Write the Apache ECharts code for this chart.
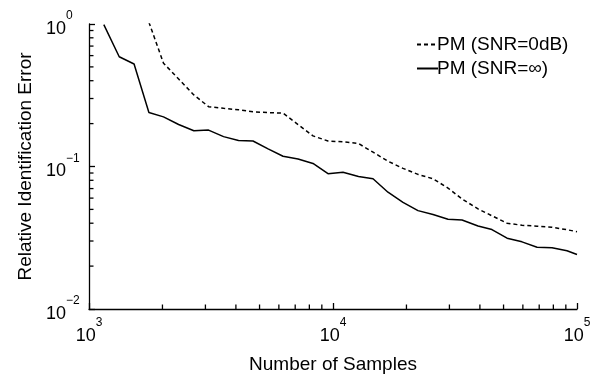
<!DOCTYPE html>
<html>
<head>
<meta charset="utf-8">
<script src="https://cdn.jsdelivr.net/npm/echarts@6/dist/echarts.min.js"></script>
<style>
  html, body { margin: 0; padding: 0; background: #fff; }
  #chart { width: 600px; height: 379px; }
</style>
</head>
<body>
<div id="chart"></div>
<script>
// number of samples (shared x values)
const samples = [1150, 1330, 1530, 1760, 2020, 2330, 2690, 3090, 3560, 4100,
  4700, 5420, 6240, 7190, 8280, 9540, 10990, 12720, 14590, 16800,
  19360, 22300, 25700, 29600, 33800, 39300, 44800, 51700, 59500, 68600,
  79000, 91000, 100000];

// PM (SNR=inf), solid
const errInf = [0.99, 0.589, 0.524, 0.2395, 0.223, 0.197, 0.178, 0.180, 0.162, 0.152,
  0.151, 0.133, 0.118, 0.113, 0.105, 0.089, 0.091, 0.085, 0.082, 0.066,
  0.056, 0.049, 0.046, 0.0426, 0.0421, 0.0382, 0.0361, 0.0314, 0.0296, 0.0271,
  0.0269, 0.0256, 0.0241];

// PM (SNR=0dB), dashed
const err0dB = [null, null, null, 1.03, 0.531, 0.411, 0.318, 0.263, 0.256, 0.250,
  0.242, 0.239, 0.237, 0.197, 0.164, 0.151, 0.149, 0.145, 0.126, 0.109,
  0.097, 0.088, 0.082, 0.0706, 0.0592, 0.0504, 0.0451, 0.040, 0.0387, 0.0381,
  0.0375, 0.036, 0.0349];

const seriesNames = ["PM (SNR=0dB)", "PM (SNR=\u221e)"];

// minor ticks at 2..9 x 10^k (decade ticks come from axisTick)
const xMinorTicks = [];
const yMinorTicks = [];
[1000, 10000].forEach((d) => { for (let i = 2; i <= 9; i++) xMinorTicks.push(i * d); });
[0.01, 0.1].forEach((d) => { for (let i = 2; i <= 9; i++) yMinorTicks.push(+(i * d).toFixed(3)); });

const FONT = "Liberation Sans, Arial, Helvetica, sans-serif";
const AXIS_W = 1.3;

const powLabel = (v) => {
  const e = Math.round(Math.log10(v));
  return "{b|10}{s|" + (e < 0 ? "\u2212" + Math.abs(e) : e) + "}";
};
const rich = {
  b: { fontSize: 18, lineHeight: 28, verticalAlign: "bottom", color: "#000", fontFamily: FONT },
  s: { fontSize: 12, lineHeight: 12, verticalAlign: "top", color: "#000", fontFamily: FONT },
};

const toPairs = (ys) => samples.map((x, i) => [x, ys[i]]);

// minor tick items sit inside the grid; edges come from the coord system
const tickItems = []
  .concat(xMinorTicks.map((v) => [v, 0.1, 0]))
  .concat(yMinorTicks.map((v) => [10000, v, 1]));

const renderTick = (params, api) => {
  const cs = params.coordSys;
  const p = api.coord([api.value(0), api.value(1)]);
  const len = 4.5;
  if (api.value(2) === 0) {
    return { type: "rect", shape: { x: p[0] - AXIS_W / 2, y: cs.y + cs.height - len, width: AXIS_W, height: len }, style: { fill: "#000" } };
  }
  return { type: "rect", shape: { x: cs.x, y: p[1] - AXIS_W / 2, width: len, height: AXIS_W }, style: { fill: "#000" } };
};

const chart = echarts.init(document.getElementById("chart"));
chart.setOption({
  animation: false,
  backgroundColor: "#fff",
  textStyle: { fontFamily: FONT, color: "#000" },
  grid: { left: 89, right: 23, top: 24, bottom: 67 },
  legend: {
    data: seriesNames,
    orient: "vertical",
    left: 411,
    top: 30,
    itemWidth: 21,
    itemHeight: 14,
    itemGap: 5,
    itemStyle: { opacity: 0 },
    textStyle: { fontSize: 19, color: "#000", fontFamily: FONT, padding: [0, 0, 0, -6] },
  },
  xAxis: {
    type: "log",
    logBase: 10,
    min: 1000,
    max: 100000,
    name: "Number of Samples",
    nameLocation: "middle",
    nameGap: 46,
    nameTextStyle: { fontSize: 19, color: "#000", fontFamily: FONT },
    axisLine: { lineStyle: { color: "#000", width: AXIS_W } },
    axisTick: { show: true, inside: true, length: 6, lineStyle: { color: "#000", width: AXIS_W } },
    axisLabel: { margin: 8, formatter: powLabel, rich: rich },
    splitLine: { show: false },
  },
  yAxis: {
    type: "log",
    logBase: 10,
    min: 0.01,
    max: 1,
    name: "Relative Identification Error",
    nameLocation: "middle",
    nameGap: 46,
    nameTextStyle: { fontSize: 19, color: "#000", fontFamily: FONT },
    axisLine: { show: true, lineStyle: { color: "#000", width: AXIS_W } },
    axisTick: { show: true, inside: true, length: 6, lineStyle: { color: "#000", width: AXIS_W } },
    axisLabel: { margin: 43, align: "left", formatter: powLabel, rich: rich },
    splitLine: { show: false },
  },
  series: [
    {
      name: seriesNames[0],
      type: "line",
      data: toPairs(err0dB),
      symbol: "none",
      clip: true,
      lineStyle: { color: "#000", width: 1.5, type: [4, 3] },
      itemStyle: { color: "#000" },
    },
    {
      name: seriesNames[1],
      type: "line",
      data: toPairs(errInf),
      symbol: "none",
      clip: true,
      lineStyle: { color: "#000", width: 1.5 },
      itemStyle: { color: "#000" },
    },
    {
      type: "custom",
      silent: true,
      data: tickItems,
      renderItem: renderTick,
    },
  ],
});
</script>
</body>
</html>
